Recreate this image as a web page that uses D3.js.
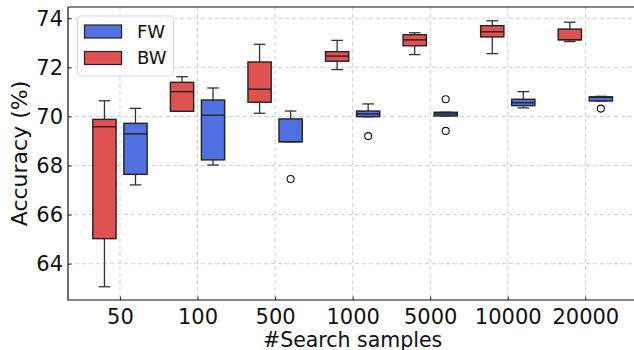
<!DOCTYPE html>
<html>
<head>
<meta charset="utf-8">
<script src="https://cdn.jsdelivr.net/npm/d3@7.9.0/dist/d3.min.js"></script>
<style>
  body { margin: 0; background: #fff; }
  svg { display: block; font-family: 'DejaVu Sans', sans-serif; }
</style>
</head>
<body>
<svg id="chart" width="634" height="350"></svg>
<script>
const categories = ['50', '100', '500', '1000', '5000', '10000', '20000'];
const yTicks = [64, 66, 68, 70, 72, 74];

// FW (blue) box stats
const fwLow = [67.21, 68.02, 68.97, 69.99, 70.02, 70.35, 70.63];
const fwQ1 = [67.64, 68.23, 68.97, 69.99, 70.02, 70.44, 70.63];
const fwMed = [69.29, 70.05, 68.97, 70.10, 70.10, 70.56, 70.78];
const fwQ3 = [69.72, 70.67, 69.90, 70.22, 70.17, 70.70, 70.80];
const fwHigh = [70.33, 71.16, 70.22, 70.51, 70.17, 71.01, 70.82];
const fwOutliers = [[], [], [67.45], [69.20], [70.70, 69.41], [], [70.32]];

// BW (red) box stats
const bwLow = [63.06, 70.21, 70.13, 71.91, 72.52, 72.56, 73.05];
const bwQ1 = [65.02, 70.21, 70.58, 72.25, 72.88, 73.24, 73.12];
const bwMed = [69.58, 71.01, 71.11, 72.46, 73.12, 73.45, 73.13];
const bwQ3 = [69.88, 71.39, 72.22, 72.64, 73.33, 73.70, 73.56];
const bwHigh = [70.64, 71.62, 72.94, 73.10, 73.41, 73.90, 73.84];
const bwOutliers = [[], [], [], [], [], [], []];

const blue = '#5271e0';
const red = '#e05252';

const svg = d3.select('#chart');
const plotL = 68, plotR = 637.3, plotT = 7, plotB = 300;

const x = d3.scaleLinear().domain([0.33, 7.67]).range([plotL, plotR]);
const y = d3.scaleLinear().domain([62.52, 74.46]).range([plotB, plotT]);

// grid
const grid = svg.append('g');
categories.forEach((c, i) => {
  grid.append('line')
    .attr('x1', x(i + 1)).attr('x2', x(i + 1))
    .attr('y1', plotT).attr('y2', plotB)
    .attr('stroke', '#cfcfcf').attr('stroke-dasharray', '4,3');
});
yTicks.forEach((t) => {
  grid.append('line')
    .attr('x1', plotL).attr('x2', plotR)
    .attr('y1', y(t)).attr('y2', y(t))
    .attr('stroke', '#cfcfcf').attr('stroke-dasharray', '4,3');
});

// axes
const xAxis = svg.append('g')
  .attr('transform', `translate(0,${plotB})`)
  .call(d3.axisBottom(x)
    .tickValues(d3.range(1, categories.length + 1))
    .tickFormat((d) => categories[d - 1])
    .tickSize(-3.5)
    .tickPadding(9));
const yAxis = svg.append('g')
  .attr('transform', `translate(${plotL},0)`)
  .call(d3.axisLeft(y).tickValues(yTicks).tickSize(-3.5).tickPadding(5));

[xAxis, yAxis].forEach((a) => {
  a.select('.domain').remove();
  a.selectAll('.tick line').attr('stroke', '#222');
  a.selectAll('.tick text')
    .attr('font-size', 21)
    .attr('font-family', 'DejaVu Sans')
    .attr('fill', '#111');
});

function drawBoxes(offset, color, low, q1, med, q3, high, outliers) {
  const g = svg.append('g');
  const w = x(0.3) - x(0);
  categories.forEach((c, i) => {
    const cx = x(i + 1 + offset);
    // whiskers
    g.append('line').attr('x1', cx).attr('x2', cx)
      .attr('y1', y(q3[i])).attr('y2', y(high[i]))
      .attr('stroke', '#333').attr('stroke-width', 1.3);
    g.append('line').attr('x1', cx).attr('x2', cx)
      .attr('y1', y(q1[i])).attr('y2', y(low[i]))
      .attr('stroke', '#333').attr('stroke-width', 1.3);
    // caps
    [low[i], high[i]].forEach((v) => {
      g.append('line').attr('x1', cx - w / 4).attr('x2', cx + w / 4)
        .attr('y1', y(v)).attr('y2', y(v))
        .attr('stroke', '#333').attr('stroke-width', 1.3);
    });
    g.append('rect')
      .attr('x', cx - w / 2).attr('width', w)
      .attr('y', y(q3[i])).attr('height', Math.max(0.5, y(q1[i]) - y(q3[i])))
      .attr('fill', color).attr('stroke', '#222').attr('stroke-width', 1.4);
    g.append('line').attr('x1', cx - w / 2).attr('x2', cx + w / 2)
      .attr('y1', y(med[i])).attr('y2', y(med[i]))
      .attr('stroke', '#222').attr('stroke-width', 1.4);
    outliers[i].forEach((v) => {
      g.append('circle').attr('cx', cx).attr('cy', y(v)).attr('r', 3.5)
        .attr('fill', 'none').attr('stroke', '#111').attr('stroke-width', 1.1);
    });
  });
}

drawBoxes(-0.2, red, bwLow, bwQ1, bwMed, bwQ3, bwHigh, bwOutliers);
drawBoxes(0.2, blue, fwLow, fwQ1, fwMed, fwQ3, fwHigh, fwOutliers);

// frame
svg.append('path')
  .attr('d', `M${plotL},${plotT}H${plotR}M${plotL},${plotT}V${plotB}H${plotR}`)
  .attr('fill', 'none').attr('stroke', '#111').attr('stroke-width', 1.2);

// legend
const legend = svg.append('g');
legend.append('rect')
  .attr('x', 77.5).attr('y', 16).attr('width', 96).attr('height', 60)
  .attr('rx', 3).attr('fill', 'white').attr('fill-opacity', 0.8)
  .attr('stroke', '#d8d8d8');
[['FW', blue], ['BW', red]].forEach(([name, color], i) => {
  const cy = 31.5 + i * 26.5;
  legend.append('rect')
    .attr('x', 84.5).attr('y', cy - 6.5).attr('width', 37).attr('height', 13)
    .attr('fill', color).attr('stroke', '#222').attr('stroke-width', 1.2);
  legend.append('text')
    .attr('x', 137).attr('y', cy).attr('dy', '0.36em')
    .attr('font-size', 18).attr('fill', '#111')
    .text(name);
});

// axis titles
svg.append('text')
  .attr('transform', `translate(26.5,${(plotT + plotB) / 2}) rotate(-90)`)
  .attr('text-anchor', 'middle')
  .attr('font-size', 22).attr('fill', '#111')
  .text('Accuracy (%)');
svg.append('text')
  .attr('x', (plotL + plotR) / 2).attr('y', 347)
  .attr('text-anchor', 'middle')
  .attr('font-size', 20.5).attr('fill', '#111')
  .text('#Search samples');
</script>
</body>
</html>
